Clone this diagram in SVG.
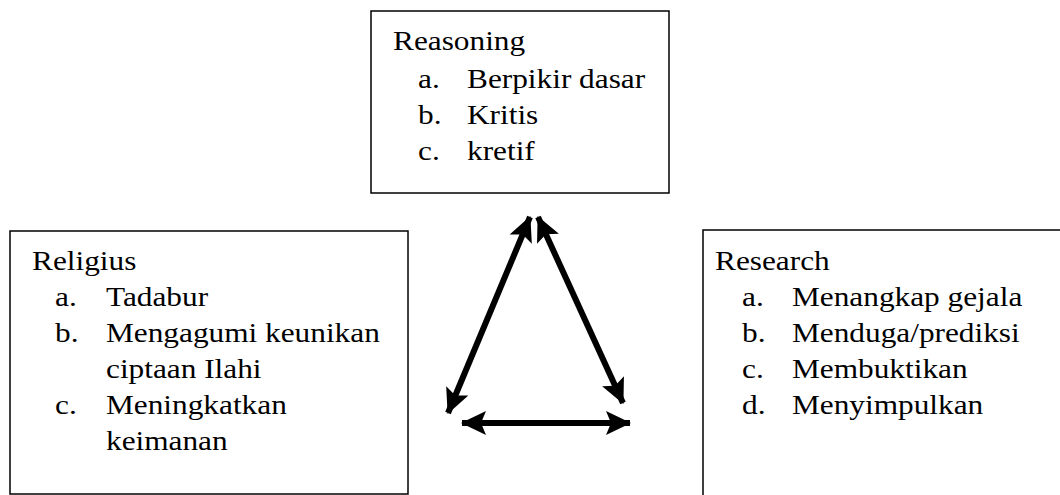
<svg xmlns="http://www.w3.org/2000/svg" width="1060" height="495" viewBox="0 0 1060 495">
<style>
.box{fill:#fff;stroke:#000;stroke-width:1.5}
.t{font-family:"Liberation Serif","Times New Roman",serif;font-size:27px;fill:#000}
.c{stroke:#000;stroke-width:6;fill:none}
</style>
<defs>
<marker id="ah" markerUnits="userSpaceOnUse" markerWidth="30" markerHeight="30" refX="24" refY="15" orient="auto-start-reverse" viewBox="0 0 30 30" overflow="visible">
<path d="M0,3 L25,15 L0,27 L5,15 Z" fill="#000"/>
</marker>
</defs>
<rect width="1060" height="495" fill="#fff"/>
<g id="reasoning">
<rect class="box" x="371" y="11" width="298" height="182"/>
<text class="t" transform="matrix(1.16 0 0 1 393 50)">Reasoning</text>
<text class="t" transform="matrix(1.16 0 0 1 418 88)">a.</text>
<text class="t" transform="matrix(1.16 0 0 1 467 88)">Berpikir dasar</text>
<text class="t" transform="matrix(1.16 0 0 1 418 124)">b.</text>
<text class="t" transform="matrix(1.16 0 0 1 467 124)">Kritis</text>
<text class="t" transform="matrix(1.16 0 0 1 418 160)">c.</text>
<text class="t" transform="matrix(1.16 0 0 1 467 160)">kretif</text>
</g>
<g id="religius">
<rect class="box" x="10" y="231" width="398" height="263"/>
<text class="t" transform="matrix(1.16 0 0 1 32 270)">Religius</text>
<text class="t" transform="matrix(1.16 0 0 1 55 306)">a.</text>
<text class="t" transform="matrix(1.16 0 0 1 106 306)">Tadabur</text>
<text class="t" transform="matrix(1.16 0 0 1 55 342)">b.</text>
<text class="t" transform="matrix(1.16 0 0 1 106 342)">Mengagumi keunikan</text>
<text class="t" transform="matrix(1.16 0 0 1 106 378)">ciptaan Ilahi</text>
<text class="t" transform="matrix(1.16 0 0 1 55 414)">c.</text>
<text class="t" transform="matrix(1.16 0 0 1 106 414)">Meningkatkan</text>
<text class="t" transform="matrix(1.16 0 0 1 106 450)">keimanan</text>
</g>
<g id="research">
<rect class="box" x="703" y="230" width="400" height="300"/>
<text class="t" transform="matrix(1.16 0 0 1 715 270)">Research</text>
<text class="t" transform="matrix(1.16 0 0 1 742 306)">a.</text>
<text class="t" transform="matrix(1.16 0 0 1 792 306)">Menangkap gejala</text>
<text class="t" transform="matrix(1.16 0 0 1 742 342)">b.</text>
<text class="t" transform="matrix(1.16 0 0 1 792 342)">Menduga/prediksi</text>
<text class="t" transform="matrix(1.16 0 0 1 742 378)">c.</text>
<text class="t" transform="matrix(1.16 0 0 1 792 378)">Membuktikan</text>
<text class="t" transform="matrix(1.16 0 0 1 742 414)">d.</text>
<text class="t" transform="matrix(1.16 0 0 1 792 414)">Menyimpulkan</text>
</g>
<g id="connectors">
<line class="c" x1="448" y1="413" x2="530" y2="217" marker-start="url(#ah)" marker-end="url(#ah)"/>
<line class="c" x1="538" y1="217" x2="623" y2="403" marker-start="url(#ah)" marker-end="url(#ah)"/>
<line class="c" x1="462" y1="423" x2="630" y2="423" marker-start="url(#ah)" marker-end="url(#ah)"/>
</g>
</svg>
